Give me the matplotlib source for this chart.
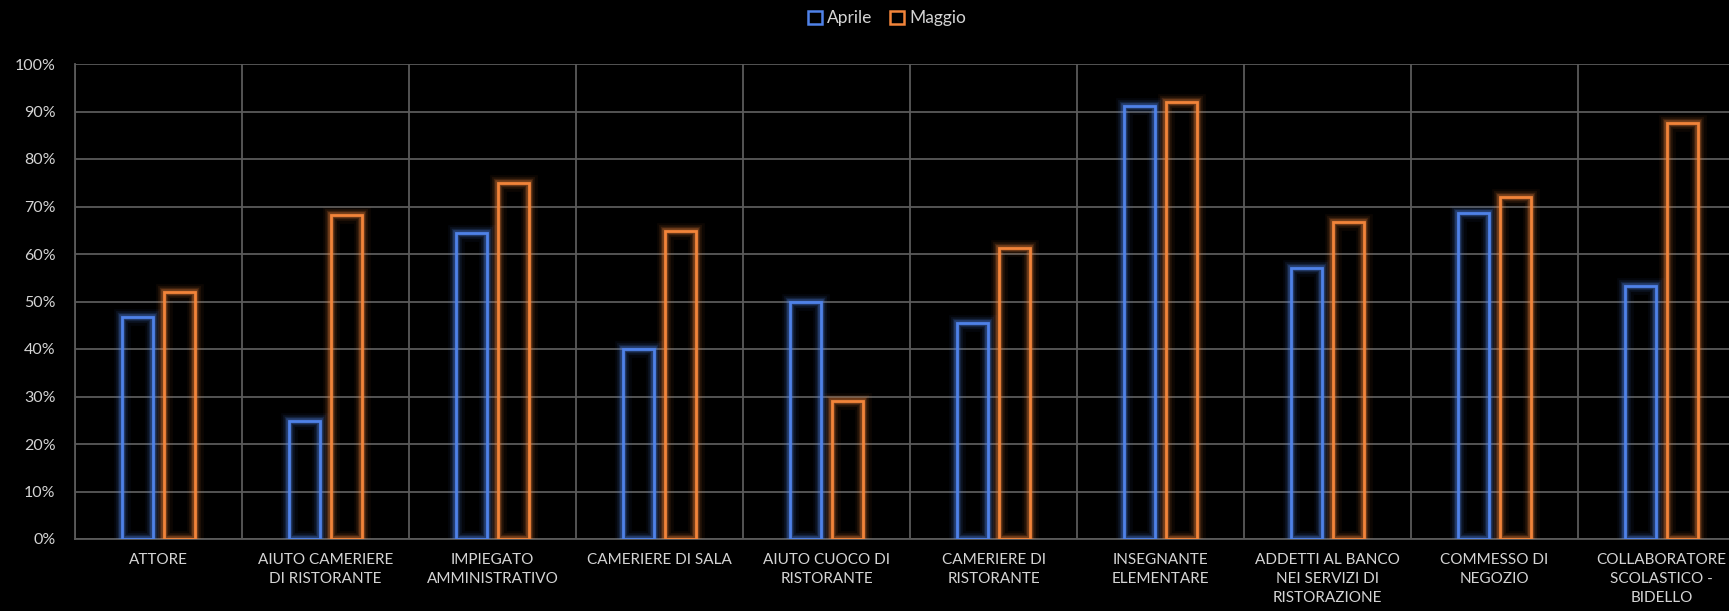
import matplotlib.pyplot as plt
import numpy as np
from matplotlib.patches import Patch

plt.rcParams['font.family'] = ['Lato', 'DejaVu Sans']

# categorie e percentuali per mese
categorie = [
    "ATTORE",
    "AIUTO CAMERIERE\nDI RISTORANTE",
    "IMPIEGATO\nAMMINISTRATIVO",
    "CAMERIERE DI SALA",
    "AIUTO CUOCO DI\nRISTORANTE",
    "CAMERIERE DI\nRISTORANTE",
    "INSEGNANTE\nELEMENTARE",
    "ADDETTI AL BANCO\nNEI SERVIZI DI\nRISTORAZIONE",
    "COMMESSO DI\nNEGOZIO",
    "COLLABORATORE\nSCOLASTICO -\nBIDELLO",
]
aprile = [46.8, 24.9, 64.4, 39.9, 49.8, 45.4, 91.2, 57.0, 68.6, 53.2]
maggio = [52.1, 68.2, 74.9, 64.8, 29.1, 61.2, 91.9, 66.7, 71.9, 87.6]

col_aprile = '#4f82e8'
col_maggio = '#f2843a'
testo = '#d4d4d4'
griglia = '#5a5a5a'

fig = plt.figure(figsize=(17.29, 6.11), dpi=100, facecolor='black')
# l'area del grafico esce a destra oltre il bordo della figura
ax = fig.add_axes([75 / 1729, 72 / 611, 1670 / 1729, 475 / 611])
ax.set_facecolor('black')

x = np.arange(len(categorie))
w = 0.19
off = 0.125


def barre_luminose(pos, valori, colore):
    # alone: più passate larghe e trasparenti, poi il bordo vero
    for lw, a in [(12, 0.05), (8.5, 0.09), (6, 0.16), (4, 0.3)]:
        ax.bar(pos, valori, width=w, fill=False, edgecolor=colore,
               linewidth=lw, alpha=a, zorder=3)
    ax.bar(pos, valori, width=w, fill=False, edgecolor=colore,
           linewidth=2.0, zorder=4)


barre_luminose(x - off, aprile, col_aprile)
barre_luminose(x + off, maggio, col_maggio)

ax.set_xlim(-0.5, len(categorie) - 0.5)
ax.set_ylim(0, 100)
ax.set_yticks(np.arange(0, 101, 10))
ax.set_yticklabels([f"{v}%" for v in range(0, 101, 10)])
ax.set_xticks(x)
ax.set_xticklabels(categorie, linespacing=1.45)
ax.set_xticks(np.arange(-0.5, len(categorie), 1), minor=True)

ax.grid(axis='y', which='major', color=griglia, linewidth=1.3, zorder=0)
ax.grid(axis='x', which='minor', color=griglia, linewidth=1.3, zorder=0)
ax.set_axisbelow(True)

ax.tick_params(axis='both', which='both', length=0, colors=testo)
ax.tick_params(axis='x', labelsize=11, pad=10)
ax.tick_params(axis='y', labelsize=11.5, pad=14)

for s in ['top', 'right']:
    ax.spines[s].set_visible(False)
for s in ['left', 'bottom']:
    ax.spines[s].set_color(griglia)
    ax.spines[s].set_linewidth(1.3)

maniglie = [Patch(facecolor='none', edgecolor=col_aprile, linewidth=1.8, label='Aprile'),
            Patch(facecolor='none', edgecolor=col_maggio, linewidth=1.8, label='Maggio')]
leg = fig.legend(handles=maniglie, loc='center', bbox_to_anchor=(0.513, 0.97),
                 ncol=2, frameon=False, fontsize=12.5, handlelength=0.8,
                 handleheight=0.8, handletextpad=0.3, columnspacing=1.0)
for t in leg.get_texts():
    t.set_color(testo)

fig.savefig('out.png', dpi=100, facecolor='black')
